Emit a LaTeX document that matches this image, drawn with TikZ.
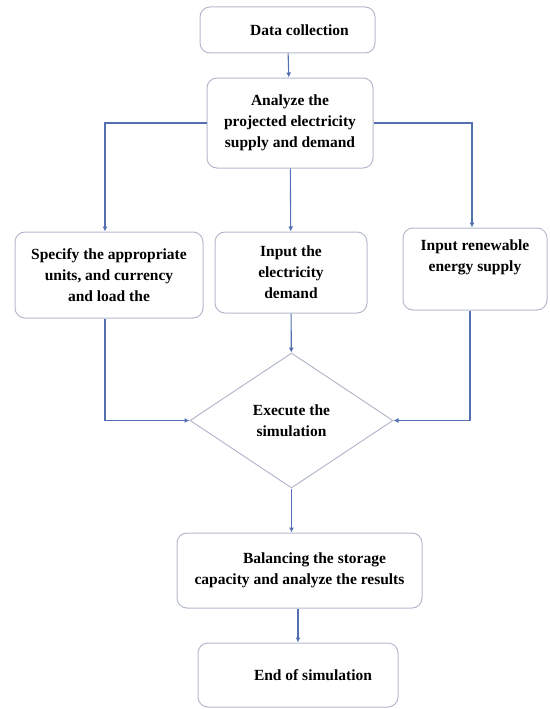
\documentclass[tikz,border=0pt]{standalone}
\usepackage{fontspec}
\setmainfont{Liberation Serif}
\usepackage{tikz}
\usetikzlibrary{positioning, arrows.meta, shapes.geometric}
\definecolor{FlowBlue}{RGB}{84,112,178}
\definecolor{BoxGray}{RGB}{180,186,204}

\begin{document}
\begin{tikzpicture}[x=1pt, y=-1pt,
  box/.style={draw=BoxGray, line width=1pt, rounded corners=10pt, align=center,
    inner sep=2pt, font=\fontsize{15.5}{21}\selectfont\bfseries},
  decide/.style={diamond, draw=BoxGray, line width=1pt, align=center, inner sep=0pt,
    minimum width=203pt, minimum height=135pt, font=\fontsize{15.5}{21}\selectfont\bfseries},
  flow/.style={-{Latex[length=5pt, width=5pt]}, FlowBlue, line width=1.1pt}]
  \useasboundingbox (0,0) rectangle (549,709);
  % Top of the chart
  \node[box, minimum width=175pt, minimum height=46pt] (data) at (287.5,30) {\hspace*{24pt}Data collection};
  \node[box, minimum width=166pt, minimum height=90pt] (analyze) at (290,123)
    {Analyze the\\projected electricity\\supply and demand};
  % Three inputs
  \node[box, minimum width=188pt, minimum height=86pt] (specify) at (109,275)
    {Specify the appropriate\\units, and currency\\and load the};
  \node[box, minimum width=152pt, minimum height=81pt] (demand) at (291,272.5)
    {Input the\\electricity\\demand};
  \node[box, minimum width=144pt, minimum height=82pt] (renew) at (475,269)
    {Input renewable\\energy supply\\[6pt]};
  % Simulation
  \node[decide] (execute) at (291.5,420.5) {Execute the\\simulation};
  \node[box, minimum width=245pt, minimum height=75pt] (balance) at (299.5,570.5)
    {\hspace*{30pt}Balancing the storage\\capacity and analyze the results};
  \node[box, minimum width=200pt, minimum height=64pt] (finish) at (298,675) {\hspace*{30pt}End of simulation};
  % Connectors
  \draw[flow] (data) -- (analyze);
  \draw[flow] (analyze.west) -| (specify.north -| 105,0);
  \draw[flow] (analyze.east) -| (renew.north -| 472,0);
  \draw[flow] (analyze) -- (demand);
  \draw[flow] (specify.south -| 105,0) |- (execute.west);
  \draw[flow] (renew.south -| 470,0) |- (execute.east);
  \draw[flow] (demand) -- (execute);
  \draw[flow] (execute.south) -- (execute.south |- balance.north);
  \draw[flow] (balance.south -| finish.north) -- (finish.north);
\end{tikzpicture}
\end{document}
